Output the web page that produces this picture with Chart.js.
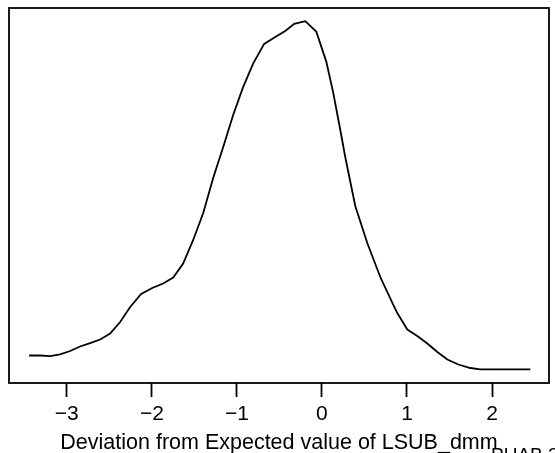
<!DOCTYPE html>
<html>
<head>
<meta charset="utf-8">
<script src="https://cdn.jsdelivr.net/npm/chart.js@4/dist/chart.umd.min.js"></script>
<style>
  html, body { margin: 0; padding: 0; background: #fff; }
  #wrap { width: 555px; height: 453px; position: relative; }
</style>
</head>
<body>
<div id="wrap"><canvas id="c" width="555" height="453"></canvas></div>
<script>
// Deviation values (x) and estimated kernel density (y)
const deviation = [-3.444, -3.314, -3.196, -3.079, -2.961, -2.844, -2.726, -2.608, -2.491, -2.373,
  -2.255, -2.126, -1.996, -1.867, -1.749, -1.632, -1.514, -1.396, -1.279, -1.161,
  -1.044, -0.926, -0.808, -0.679, -0.549, -0.432, -0.326, -0.196, -0.067, 0.051,
  0.133, 0.216, 0.274, 0.392, 0.533, 0.686, 0.839, 0.886, 1.004, 1.121,
  1.239, 1.357, 1.475, 1.604, 1.745, 1.862, 2.098, 2.274, 2.450];
const density = [0.023, 0.023, 0.022, 0.025, 0.0305, 0.038, 0.0438, 0.0497, 0.0597, 0.0788,
  0.1038, 0.1255, 0.1355, 0.143, 0.153, 0.1763, 0.2155, 0.2605, 0.3188, 0.3705,
  0.4238, 0.4705, 0.5097, 0.5422, 0.5538, 0.5638, 0.5755, 0.58, 0.5627, 0.5127,
  0.4605, 0.3988, 0.3538, 0.2722, 0.2105, 0.1538, 0.1072, 0.0938, 0.0663, 0.0555,
  0.043, 0.0288, 0.0163, 0.008, 0.0022, 0.0, 0.0, 0.0, 0.0];
const xTicks = [-3, -2, -1, 0, 1, 2];
const xTitle = 'Deviation from Expected value of LSUB_dmm';
const cornerText = 'PUAB 2';

const FONT = '"Liberation Sans", Arial, Helvetica, sans-serif';
const points = deviation.map((v, i) => ({ x: v, y: density[i] }));

const framePlugin = {
  id: 'frame',
  afterDraw(chart) {
    const { ctx, chartArea: a } = chart;
    ctx.save();
    ctx.strokeStyle = '#000';
    ctx.lineWidth = 1.8;
    ctx.strokeRect(a.left, a.top, a.right - a.left, a.bottom - a.top);
    ctx.fillStyle = '#000';
    ctx.font = '19px ' + FONT;
    ctx.textBaseline = 'alphabetic';
    ctx.textAlign = 'left';
    ctx.fillText(cornerText, 491, 461);
    ctx.restore();
  }
};

new Chart(document.getElementById('c'), {
  type: 'line',
  data: {
    datasets: [{
      data: points,
      borderColor: '#000',
      borderWidth: 1.8,
      pointRadius: 0,
      tension: 0,
      fill: false
    }]
  },
  options: {
    responsive: false,
    animation: false,
    events: [],
    layout: { padding: { left: 9, right: 6, top: 8, bottom: 0 } },
    plugins: { legend: { display: false }, tooltip: { enabled: false } },
    scales: {
      x: {
        type: 'linear',
        min: -3.68,
        max: 2.67,
        afterBuildTicks: s => { s.ticks = xTicks.map(v => ({ value: v })); },
        afterFit: s => { s.height = 70; },
        border: { display: false },
        grid: { drawOnChartArea: false, drawTicks: true, tickLength: 14, color: '#000', tickWidth: 1.8 },
        ticks: {
          color: '#000',
          font: { family: FONT, size: 21 },
          padding: 5,
          maxRotation: 0,
          callback: v => (v < 0 ? '\u2212' + Math.abs(v) : String(v))
        },
        title: {
          display: true,
          text: xTitle,
          color: '#000',
          font: { family: FONT, size: 21.5 },
          padding: { top: 0, bottom: -3 }
        }
      },
      y: {
        display: false,
        min: -0.0228,
        max: 0.602
      }
    }
  },
  plugins: [framePlugin]
});
</script>
</body>
</html>
